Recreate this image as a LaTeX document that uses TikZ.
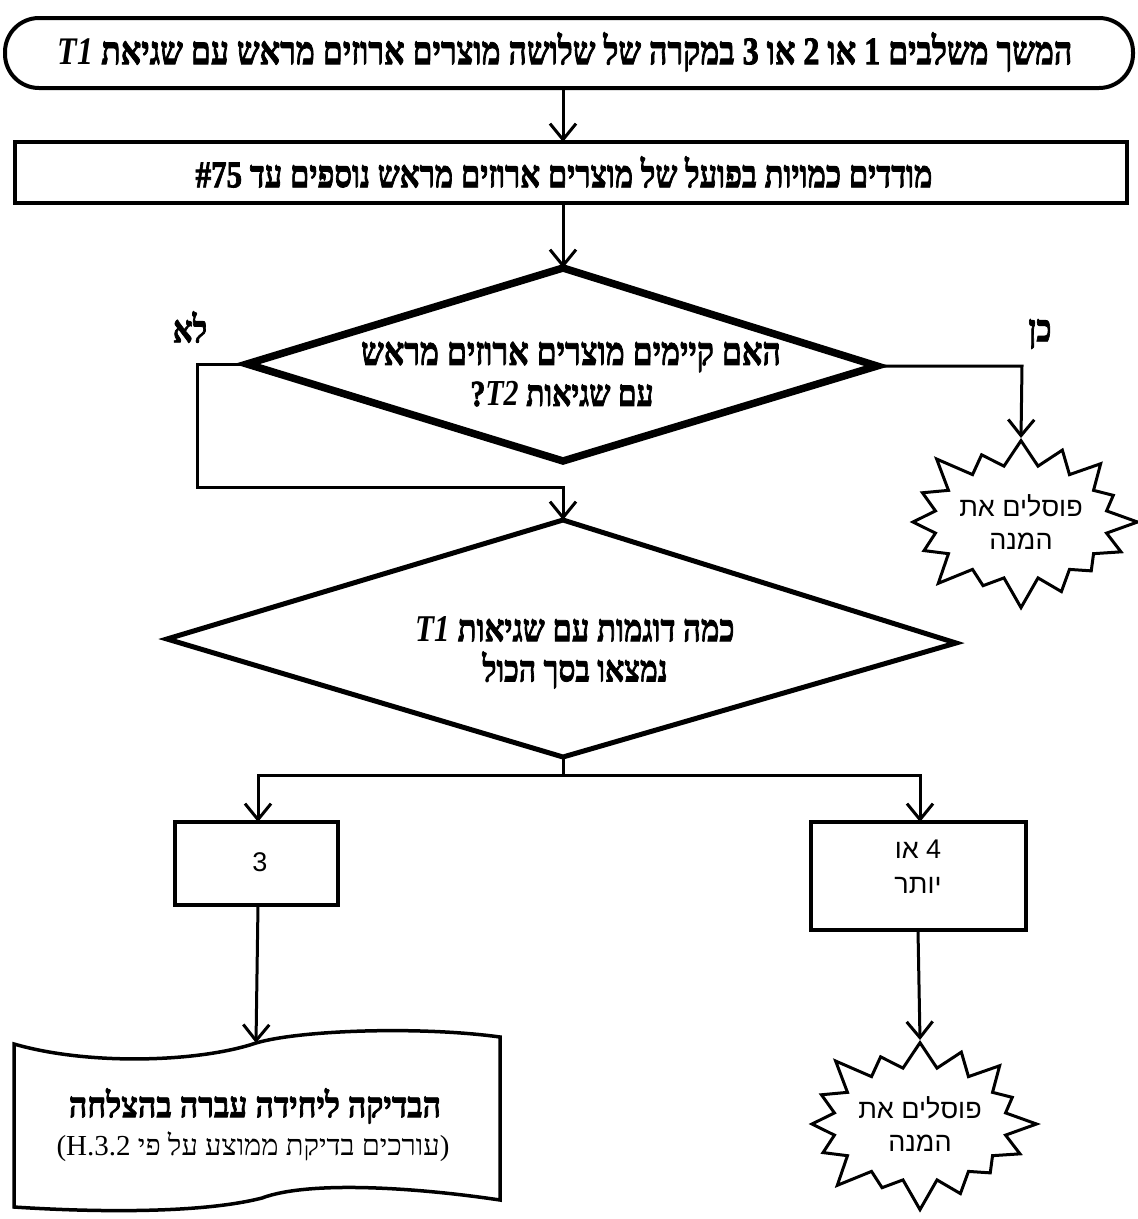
\documentclass[tikz,border=0pt]{standalone}
\usepackage{fontspec}
\usepackage{graphicx}
\usetikzlibrary{arrows.meta,shapes.symbols}
\TeXXeTstate=1
\newfontfamily\hebserif[Script=Hebrew, BoldFeatures={FakeBold=2.2}]{Liberation Serif}
\newfontfamily\hebsans[Script=Hebrew]{Liberation Sans}
\newfontfamily\latserif{Liberation Serif}
\newcommand{\tallt}[1]{\scalebox{1}[1.22]{#1}}
\tikzset{
  conn/.style={line width=3pt, line join=miter},
  arr/.style={conn, -{Straight Barb[length=16pt,width=26pt]}},
  boxb/.style={line width=4pt},
  diam/.style={line width=7.5pt, line join=miter},
  btxt/.style={font=\hebserif\bfseries\fontsize{31}{36}\selectfont, inner sep=0pt},
  burst/.style={starburst, draw, line width=3pt, starburst points=16,
    starburst point height=34pt, minimum width=230pt, minimum height=182pt,
    font=\hebsans\fontsize{27}{33}\selectfont, align=center, inner sep=0pt},
  stxt/.style={font=\hebsans\fontsize{27}{35}\selectfont, align=center, inner sep=0pt},
  lbl/.style={font=\hebserif\bfseries\fontsize{31}{36}\selectfont, inner sep=0pt}
}
\begin{document}
\begin{tikzpicture}[x=1pt,y=-1pt]
\useasboundingbox[fill=white] (0,0) rectangle (1138,1219);

% terminal
\draw[boxb, rounded corners=34pt] (5,18) rectangle (1133,88);
\node[btxt, font=\hebserif\bfseries\fontsize{32}{36}\selectfont] (term) at (565,52) {\tallt{\beginR המשך משלבים \beginL1\endL{} או \beginL2\endL{} או \beginL3\endL{} במקרה של שלושה מוצרים ארוזים מראש עם שגיאת \beginL\textit{T1}\endL\endR}};
\coordinate (termb) at (563,88);

% measure box
\draw[boxb] (15,142) rectangle (1127,203);
\node[btxt] (meas) at (564,172) {\tallt{\beginR מודדים כמויות בפועל של מוצרים ארוזים מראש נוספים עד \beginL\#75\endL\endR}};
\coordinate (meast) at (563,142);
\coordinate (measb) at (563,203);

% diamond 1
\coordinate (d1t) at (563,268);
\coordinate (d1l) at (247,364);
\coordinate (d1r) at (877,366);
\coordinate (d1b) at (563,461);
\draw[diam] (d1t) -- (d1r) -- (d1b) -- (d1l) -- cycle;
\node[btxt, font=\hebserif\bfseries\fontsize{32}{36}\selectfont] (q1a) at (571,357) {\tallt{\beginR האם קיימים מוצרים ארוזים מראש\endR}};
\node[btxt, font=\hebserif\bfseries\fontsize{30}{36}\selectfont] (q1b) at (562,394) {\tallt{\beginR עם שגיאות \beginL\textit{T2}\endL?\endR}};
\node[lbl] (no) at (190,327) {\tallt{\beginR לא\endR}};
\node[lbl] (yes) at (1040,334) {\tallt{\beginR כן\endR}};

% starburst 1
\node[burst] (rej1) at (1021,522) {\beginR פוסלים את\endR\\\beginR המנה\endR};

% diamond 2
\coordinate (d2t) at (563,520);
\coordinate (d2l) at (167,639);
\coordinate (d2r) at (956,643);
\coordinate (d2b) at (563,757);
\draw[diam, line width=5pt] (d2t) -- (d2r) -- (d2b) -- (d2l) -- cycle;
\node[btxt] (q2a) at (575,629) {\tallt{\beginR כמה דוגמות עם שגיאות \beginL\textit{T1}\endL\endR}};
\node[btxt, font=\hebserif\bfseries\fontsize{30}{36}\selectfont] (q2b) at (575,670) {\tallt{\beginR נמצאו בסך הכול\endR}};

% result boxes
\draw[boxb] (175,822) rectangle (338,905);
\node[stxt] (three) at (260,862) {3};
\coordinate (b3t) at (258,822);
\coordinate (b3b) at (258,905);
\draw[boxb] (811,822) rectangle (1026,930);
\node[stxt] (four) at (918,867) {\beginR \beginL4\endL{} או\endR\\\beginR יותר\endR};
\coordinate (b4t) at (920,822);
\coordinate (b4b) at (918,930);

% document shape
\draw[boxb, line width=3.5pt]
  (14,1044) .. controls (90,1066) and (200,1062) .. (256,1043)
  .. controls (300,1030) and (420,1026) .. (500,1037)
  -- (500,1200)
  .. controls (420,1188) and (310,1180) .. (262,1198)
  .. controls (200,1214) and (90,1212) .. (14,1207) -- cycle;
\coordinate (doct) at (256,1043);
\node[btxt, font=\hebserif\bfseries\fontsize{32}{36}\selectfont] (pass) at (255,1106) {\scalebox{1}[1.1]{\beginR הבדיקה ליחידה עברה בהצלחה\endR}};
\node[font=\hebserif\fontsize{29}{34}\selectfont, inner sep=0pt] (passb) at (253,1147) {\beginR{\latserif )}עורכים בדיקת ממוצע על פי \beginL{\latserif (H.3.2}\endL\endR};

% starburst 2
\node[burst] (rej2) at (920,1124) {\beginR פוסלים את\endR\\\beginR המנה\endR};

% connectors
\draw[arr] (termb) -- (meast);
\draw[arr] (measb) -- (d1t);
\coordinate (yc) at (1022,366);
\draw[arr] (d1r) -- (yc) -- (rej1.north);
\coordinate (nc1) at (197,364);
\coordinate (nc2) at (197,487);
\coordinate (nc3) at (563,487);
\draw[arr] (d1l) -- (nc1) -- (nc2) -- (nc3) -- (d2t);
\coordinate (sp) at (563,775);
\coordinate (spl) at (258,775);
\coordinate (spr) at (920,775);
\draw[conn] (d2b) -- (sp);
\draw[arr] (sp) -- (spl) -- (b3t);
\draw[arr] (sp) -- (spr) -- (b4t);
\draw[arr] (b3b) -- (doct);
\draw[arr] (b4b) -- (rej2.north);
\end{tikzpicture}
\end{document}
